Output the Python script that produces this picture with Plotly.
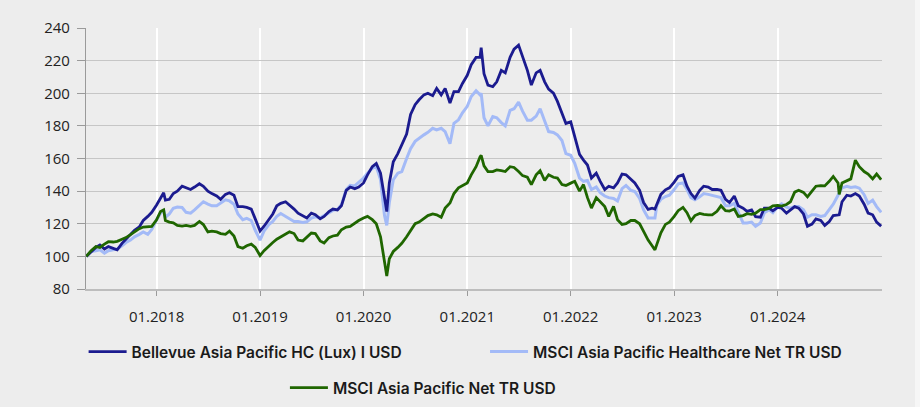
import plotly.graph_objects as go

DATES = [
    # 2017
    "2017-04-28", "2017-05-15", "2017-06-01", "2017-06-15", "2017-07-01", "2017-07-15",
    "2017-08-01", "2017-08-15", "2017-09-01", "2017-09-15", "2017-10-01", "2017-10-15",
    "2017-11-01", "2017-11-15", "2017-12-01", "2017-12-15",
    # 2018
    "2018-01-01", "2018-01-15", "2018-01-26", "2018-02-01", "2018-02-15", "2018-03-01",
    "2018-03-15", "2018-04-01", "2018-04-15", "2018-05-01", "2018-05-15", "2018-06-01",
    "2018-06-15", "2018-07-01", "2018-07-15", "2018-08-01", "2018-08-15", "2018-09-01",
    "2018-09-15", "2018-10-01", "2018-10-15", "2018-11-01", "2018-11-15", "2018-12-01",
    "2018-12-15",
    # 2019
    "2019-01-01", "2019-01-15", "2019-02-01", "2019-02-15", "2019-03-01", "2019-03-15",
    "2019-04-01", "2019-04-15", "2019-05-01", "2019-05-15", "2019-06-01", "2019-06-15",
    "2019-07-01", "2019-07-15", "2019-08-01", "2019-08-15", "2019-09-01", "2019-09-15",
    "2019-10-01", "2019-10-15", "2019-11-01", "2019-11-15", "2019-12-01", "2019-12-15",
    # 2020
    "2020-01-01", "2020-01-15", "2020-02-01", "2020-02-15", "2020-03-01", "2020-03-15",
    "2020-03-23", "2020-04-01", "2020-04-15", "2020-05-01", "2020-05-15", "2020-06-01",
    "2020-06-15", "2020-07-01", "2020-07-15", "2020-08-01", "2020-08-15", "2020-09-01",
    "2020-09-15", "2020-10-01", "2020-10-15", "2020-11-01", "2020-11-15", "2020-12-01",
    "2020-12-15",
    # 2021
    "2021-01-01", "2021-01-15", "2021-02-01", "2021-02-15", "2021-02-19", "2021-03-01",
    "2021-03-15", "2021-04-01", "2021-04-15", "2021-05-01", "2021-05-15", "2021-06-01",
    "2021-06-15", "2021-07-01", "2021-07-15", "2021-08-01", "2021-08-15", "2021-09-01",
    "2021-09-15", "2021-10-01", "2021-10-15", "2021-11-01", "2021-11-15", "2021-12-01",
    "2021-12-15",
    # 2022
    "2022-01-01", "2022-01-15", "2022-02-01", "2022-02-15", "2022-03-01", "2022-03-15",
    "2022-04-01", "2022-04-15", "2022-05-01", "2022-05-15", "2022-06-01", "2022-06-15",
    "2022-07-01", "2022-07-15", "2022-08-01", "2022-08-15", "2022-09-01", "2022-09-15",
    "2022-10-01", "2022-10-15", "2022-10-25", "2022-11-01", "2022-11-15", "2022-12-01",
    "2022-12-15",
    # 2023
    "2023-01-01", "2023-01-15", "2023-02-01", "2023-02-15", "2023-03-01", "2023-03-15",
    "2023-04-01", "2023-04-15", "2023-05-01", "2023-05-15", "2023-06-01", "2023-06-15",
    "2023-07-01", "2023-07-15", "2023-08-01", "2023-08-15", "2023-09-01", "2023-09-15",
    "2023-10-01", "2023-10-15", "2023-11-01", "2023-11-15", "2023-12-01", "2023-12-15",
    # 2024
    "2024-01-01", "2024-01-15", "2024-02-01", "2024-02-15", "2024-03-01", "2024-03-15",
    "2024-04-01", "2024-04-15", "2024-05-01", "2024-05-15", "2024-06-01", "2024-06-15",
    "2024-07-01", "2024-07-15", "2024-08-01", "2024-08-05", "2024-08-15", "2024-09-01",
    "2024-09-15", "2024-10-01", "2024-10-15", "2024-11-01", "2024-11-15", "2024-12-01",
    "2024-12-15", "2024-12-31",
]

BELLEVUE = [
    100, 103, 105.5, 107, 104.5, 106, 105, 104, 108, 110.5, 113, 116, 118, 122, 124.5, 127,
    131.5, 136, 139, 134.5, 135, 138.5, 140, 143, 142, 141, 142.5, 144.5, 143, 140, 138.5,
    137, 135, 138, 139, 137.5, 130.5, 130.5, 130, 129, 123,
    115.5, 118.5, 123, 126, 131, 132.5, 133.5, 131.5, 129, 126.5, 125, 123.5, 126.5, 125.5,
    123, 124.5, 127.5, 129, 128.5, 131, 140.5, 142.5, 141.5, 142.5,
    145, 150, 155, 157, 151, 136, 127.5, 145, 158, 163, 168, 175, 187, 193, 196, 199, 200,
    198.5, 203, 199, 203, 194, 201, 201, 206,
    211, 217.5, 222, 222, 228, 212, 205, 204, 207, 214, 212.5, 222, 227, 229.5, 222, 214,
    205, 212.5, 214, 207, 202.5, 200, 195, 188, 181.5,
    182.5, 173, 162.5, 159, 156, 148, 151, 146, 141, 143, 142, 145, 150.5, 150, 147.5, 145,
    140.5, 133, 128.8, 129.5, 129, 132, 138, 140.8, 142,
    145.5, 149, 150, 143, 138.5, 135.7, 140.5, 143, 142.5, 141, 141, 140.5, 135, 133, 137,
    131, 129.5, 127.6, 128.5, 124.3, 124, 129.6, 129.6, 128,
    130, 129.5, 126.5, 128.5, 130.5, 129.6, 126, 118.5, 119.8, 123, 122, 119, 121.4, 125,
    125.5, 125.5, 133.5, 137.5, 137, 138.5, 137, 132, 126.5, 125.5, 121, 118.5,
]

MSCI_HC = [
    100, 103, 103.5, 104, 102, 103.5, 104, 104.5, 106.5, 108.5, 110, 112, 113.5, 115, 113.5, 116.5,
    122.4, 126.5, 128.5, 124, 126, 129.5, 130.3, 130, 127, 126.5, 128.5, 131.5, 133.5, 132, 131,
    131, 132.7, 134.7, 134, 132, 126, 122.5, 123.3, 122, 116,
    110, 115.5, 119.5, 121.4, 124.5, 126.3, 124.7, 123, 121.4, 121.4, 120.8, 121.2, 123.5, 124.3,
    123.7, 125, 127, 128.2, 128.8, 131.6, 141, 143.5, 143.2, 145.5,
    148, 151, 154, 155, 147, 125, 119, 133, 147, 151, 152, 160, 166, 170.5, 172.5, 174.5, 176,
    178.5, 177.5, 178.5, 176.5, 169, 181.5, 183.7, 188,
    192, 198, 201.5, 199, 200, 185, 180, 185.7, 185, 182, 180, 189.5, 190.5, 194.5, 189, 183.5,
    183.5, 186, 190.5, 183, 176.5, 176, 174.5, 171, 163,
    162, 157, 148, 146, 146.5, 141, 142.5, 139, 137, 136, 135.5, 134, 141.5, 143.5, 140.5, 139.8,
    135.5, 128.5, 123.5, 123.5, 123.5, 131.5, 135, 136.7, 137.5,
    141, 144.5, 145, 141, 136, 134.7, 136.5, 138.5, 138, 137.5, 136.7, 136, 131, 131, 132.5,
    127.5, 120.5, 120.5, 121, 118.5, 120.5, 126.8, 128.5, 126.8,
    130.5, 132.2, 130.2, 129.5, 130.6, 130.6, 128.6, 124, 125.5, 125.5, 124.5, 125, 128.6, 132,
    137.5, 138.8, 142, 143, 142.2, 142.7, 141.8, 137.8, 132.5, 134.5, 130.5, 127,
]

MSCI_AP = [
    100, 103.5, 106, 105.5, 107.5, 109, 108.8, 109.2, 110.5, 111.5, 113.3, 115, 117, 118, 118, 118.4,
    122.4, 127.5, 128.5, 122, 121, 120.5, 119, 118.6, 119, 118.4, 119, 121.4, 119.5, 115, 115.5,
    115, 114, 113.5, 115.5, 112.5, 106, 105, 106.5, 107.5, 105.5,
    100.5, 103.5, 106.5, 108.5, 110.5, 112, 114, 115, 114, 110, 109.5, 112, 114.3, 114, 109.5,
    108.2, 111.5, 112.5, 113, 116.3, 118, 118.4, 120.5, 122,
    123.5, 124.5, 122.5, 120, 112, 95, 88, 98.5, 103, 105.5, 108, 112, 115.5, 120, 121, 123.5,
    125, 126, 125.5, 124, 129.6, 132.7, 138.5, 142, 143.5,
    145, 150, 155, 161, 162, 155.5, 152, 152, 153, 152.5, 152, 155, 154.5, 152, 149.5, 148.5,
    144, 150, 152.5, 146.5, 150, 148.5, 148, 144, 143.5,
    144.9, 146, 140, 144, 136, 129.6, 136, 133.5, 130.5, 124.5, 130.6, 122.5, 119.6, 120, 122,
    122, 120, 115.3, 110, 106.5, 104, 107.5, 114.5, 119.6, 121,
    124.5, 128, 130, 126.8, 121.8, 125, 126.3, 125.7, 125.5, 125.5, 127.6, 131, 128, 127.8, 129,
    124.5, 125, 126.2, 125.8, 126.5, 128.6, 128.6, 129.4, 131,
    131.2, 130.8, 131.8, 133.5, 139.4, 140.5, 139.2, 136.5, 140, 143, 143.4, 143.2, 146, 149,
    145, 138, 145, 146.3, 147.5, 159, 155, 152, 150.5, 147.5, 150.5, 147,
]

NAMES = [
    "Bellevue Asia Pacific HC (Lux) I USD",
    "MSCI Asia Pacific Healthcare Net TR USD",
    "MSCI Asia Pacific Net TR USD",
]
COLORS = ["#1b1b8f", "#a3baf7", "#1f6600"]
Y_TICKS = [80, 100, 120, 140, 160, 180, 200, 220, 240]
X_TICKS = ["2018-01-01", "2019-01-01", "2020-01-01", "2021-01-01",
           "2022-01-01", "2023-01-01", "2024-01-01"]
X_LABELS = ["01.2018", "01.2019", "01.2020", "01.2021", "01.2022", "01.2023", "01.2024"]

fig = go.Figure()
# draw order: light blue, dark blue, green
fig.add_trace(go.Scatter(x=DATES, y=MSCI_HC, name=NAMES[1], mode="lines",
                         line=dict(color=COLORS[1], width=3), legend="legend2"))
fig.add_trace(go.Scatter(x=DATES, y=BELLEVUE, name=NAMES[0], mode="lines",
                         line=dict(color=COLORS[0], width=2.8), legend="legend"))
fig.add_trace(go.Scatter(x=DATES, y=MSCI_AP, name=NAMES[2], mode="lines",
                         line=dict(color=COLORS[2], width=2.8), legend="legend3"))

leg_font = dict(family="Inter", size=15.5, color="#1a1a1a", weight=600)
leg_common = dict(orientation="h", font=leg_font, bgcolor="rgba(0,0,0,0)",
                  itemwidth=38, yanchor="middle", xanchor="left", yref="container",
                  itemclick=False, itemdoubleclick=False)

fig.update_layout(
    width=920, height=407,
    margin=dict(l=86, r=38, t=28, b=118, autoexpand=False),
    paper_bgcolor="#EDEDED", plot_bgcolor="#EDEDED",
    font=dict(family="Open Sans", size=15, color="#222222"),
    showlegend=True,
    legend=dict(x=-0.003, y=0.1351, **leg_common),
    legend2=dict(x=0.5013, y=0.1351, **leg_common),
    legend3=dict(x=0.2499, y=0.0467, **leg_common),
    xaxis=dict(
        type="date", range=["2017-04-27", "2025-01-03"],
        tickvals=X_TICKS, ticktext=X_LABELS,
        showgrid=True, gridcolor="#FFFFFF", gridwidth=1.5,
        showline=True, linecolor="#BDBDBD", linewidth=1.5,
        ticks="outside", ticklen=5, tickcolor="#9A9A9A", tickwidth=1,
        ticklabelstandoff=8, zeroline=False,
        tickfont=dict(family="Open Sans", size=15, color="#222222"),
    ),
    yaxis=dict(
        range=[80, 240], tickvals=Y_TICKS,
        showgrid=True, gridcolor="#C6C6C6", gridwidth=1.3,
        showline=True, linecolor="#9A9A9A", linewidth=1.2,
        ticks="outside", ticklen=8, tickcolor="#9A9A9A", tickwidth=1,
        ticklabelstandoff=4, zeroline=False,
        tickfont=dict(family="Open Sans", size=15, color="#222222"),
    ),
    shapes=[dict(type="rect", xref="paper", yref="paper", x0=1.0415, x1=1.06,
                 y0=-0.6, y1=1.2, fillcolor="#F6F6F6", line=dict(width=0), layer="below")],
)

fig.write_html("out.html", config={"displayModeBar": False},
               post_script="document.body.style.margin='0';")
